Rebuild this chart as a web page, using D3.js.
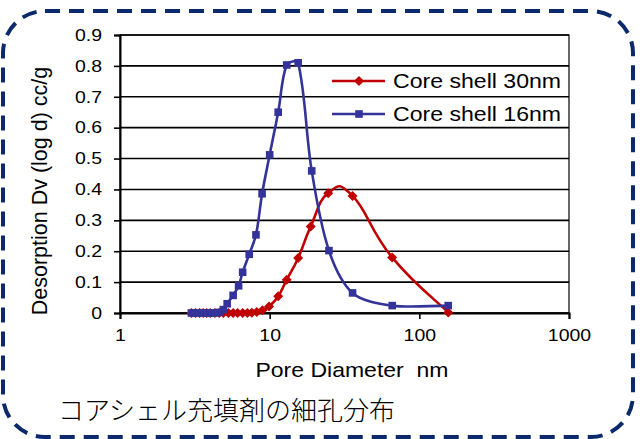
<!DOCTYPE html>
<html><head><meta charset="utf-8">
<script src="https://cdn.jsdelivr.net/npm/d3@7"></script>
<style>body{margin:0;background:#fff}svg{display:block}</style>
</head><body>
<svg id="c" width="640" height="439"></svg>
<script>
const seriesNames = ["Core shell 30nm", "Core shell 16nm"];
const redX = [3.0,3.2,3.4,3.6,3.8,4.0,4.3,4.6,4.9,5.3,5.7,6.1,6.6,7.1,7.6,8.2,8.95,9.9,11.4,13.0,15.5,18.8,24.6,35.8,65.8,156];
const redY = [0,0,0,0,0,0,0,0,0,0,0,0,0,0,0.001,0.003,0.009,0.021,0.054,0.108,0.178,0.28,0.388,0.379,0.18,0.002];
const blueX = [3.0,3.25,3.5,3.75,4.0,4.3,4.6,4.9,5.2,5.7,6.2,6.6,7.3,8.1,8.9,10.0,11.4,13.0,15.5,19.1,24.9,35.8,65.9,156];
const blueY = [0,0,0,0,0,0,0.002,0.011,0.03,0.057,0.088,0.132,0.19,0.253,0.386,0.512,0.65,0.803,0.81,0.46,0.202,0.065,0.024,0.024];
const yTicks = [0,0.1,0.2,0.3,0.4,0.5,0.6,0.7,0.8,0.9];
const xTicks = [1,10,100,1000];
const xTitle = "Pore Diameter  nm";
const yTitle = "Desorption Dv (log d) cc/g";
const caption = "コアシェル充填剤の細孔分布";

const svg = d3.select("#c");
const L=120, R=569, T=35, B=313;
const x = d3.scaleLog().domain([1,1000]).range([L,R]);
const y = d3.scaleLinear().domain([0,0.9]).range([B,T]);
const font = "Liberation Sans, Arial, sans-serif";
const SX = 1.18;
function stretch(sel, s){ sel.each(function(){ const t=d3.select(this); const ax=+t.attr("x")||0; const a=t.attr("text-anchor");
  t.attr("transform",`translate(${ax},0) scale(${s},1) translate(${-ax},0)`); }); }

// dashed rounded border
svg.append("rect").attr("x",3).attr("y",11).attr("width",630).attr("height",426)
  .attr("rx",42).attr("ry",42).attr("fill","none").attr("stroke","#0c2a6b")
  .attr("stroke-width",4).attr("stroke-dasharray","15,9");

// gridlines
svg.append("g").selectAll("line").data(yTicks).join("line")
  .attr("x1",L).attr("x2",R).attr("y1",d=>y(d)).attr("y2",d=>y(d))
  .attr("stroke","#000").attr("stroke-width",1.6);

// plot frame
svg.append("rect").attr("x",L).attr("y",T).attr("width",R-L).attr("height",B-T)
  .attr("fill","none").attr("stroke","#000").attr("stroke-width",1.2);

// y axis
const ya = svg.append("g").attr("transform",`translate(${L},0)`)
  .call(d3.axisLeft(y).tickValues(yTicks).tickFormat(d=>d===0?"0":d3.format(".1f")(d)).tickSize(6).tickPadding(12));
ya.select(".domain").attr("stroke","#000").attr("stroke-width",2);
ya.selectAll(".tick line").attr("stroke","#000").attr("stroke-width",1.6);
ya.selectAll("text").attr("font-family",font).attr("font-size",16.5).attr("fill","#000").call(stretch,SX);

// x axis
const xa = svg.append("g").attr("transform",`translate(0,${B})`)
  .call(d3.axisBottom(x).tickValues(xTicks).tickFormat(d3.format("d")).tickSize(6).tickPadding(10));
xa.select(".domain").attr("stroke","#000").attr("stroke-width",2);
xa.selectAll(".tick line").attr("stroke","#000").attr("stroke-width",1.6);
xa.selectAll("text").attr("font-family",font).attr("font-size",16.5).attr("fill","#000").call(stretch,SX);

// titles
svg.append("text").attr("x",352).attr("y",377).attr("text-anchor","middle").style("white-space","pre")
  .attr("font-family",font).attr("font-size",20).text(xTitle).call(stretch,1.15);
svg.append("text").attr("transform","translate(47,191) rotate(-90)").attr("text-anchor","middle")
  .attr("font-family",font).attr("font-size",21.5).text(yTitle);
svg.append("text").attr("x",58).attr("y",420)
  .attr("font-family","Noto Sans CJK JP, sans-serif").attr("font-size",26).attr("font-weight",300).text(caption);

// smoothed line (Catmull-Rom style Bezier, optionally segment-length weighted)
function smooth(pts, k, weighted){
  const p = d3.path(); p.moveTo(pts[0][0],pts[0][1]);
  const dist=(a,b)=>Math.hypot(b[0]-a[0],b[1]-a[1]);
  for(let i=0;i<pts.length-1;i++){
    const P0=pts[i-1]||pts[i], P1=pts[i], P2=pts[i+1], P3=pts[i+2]||pts[i+1];
    const d01=dist(P0,P1), d12=dist(P1,P2), d23=dist(P2,P3);
    let w1=1,w2=1;
    if(weighted){ w1 = d01+d12>0 ? 2*d12/(d01+d12) : 1; w2 = d12+d23>0 ? 2*d12/(d12+d23) : 1; }
    p.bezierCurveTo(P1[0]+(P2[0]-P0[0])*k*w1, P1[1]+(P2[1]-P0[1])*k*w1,
                    P2[0]-(P3[0]-P1[0])*k*w2, P2[1]-(P3[1]-P1[1])*k*w2, P2[0], P2[1]);
  }
  return p.toString();
}
const red = redX.map((v,i)=>[x(v),y(redY[i])]);
const blue = blueX.map((v,i)=>[x(v),y(blueY[i])]);
const RED="#c00000", BLUE="#333399";

function diamond(g,cx,cy,s,c){g.append("path").attr("d",`M${cx},${cy-s}L${cx+s},${cy}L${cx},${cy+s}L${cx-s},${cy}Z`).attr("fill",c);}
function square(g,cx,cy,s,c){g.append("rect").attr("x",cx-s).attr("y",cy-s).attr("width",2*s).attr("height",2*s).attr("fill",c);}

svg.append("path").attr("d",smooth(red,0.235,false)).attr("fill","none").attr("stroke",RED).attr("stroke-width",2.6);
const gr = svg.append("g");
red.forEach(d=>diamond(gr,d[0],d[1],5,RED));
svg.append("path").attr("d",smooth(blue,1/6,true)).attr("fill","none").attr("stroke",BLUE).attr("stroke-width",2.6);
const gb = svg.append("g");
blue.forEach(d=>square(gb,d[0],d[1],3.8,BLUE));

// legend
const lg = svg.append("g");
[[81,RED,diamond,5],[114,BLUE,square,3.8]].forEach((r,i)=>{
  lg.append("line").attr("x1",332).attr("x2",385).attr("y1",r[0]).attr("y2",r[0]).attr("stroke",r[1]).attr("stroke-width",2.6);
  r[2](lg,359,r[0],r[3],r[1]);
  lg.append("text").attr("x",393).attr("y",r[0]+7.5).attr("font-family",font).attr("font-size",21).text(seriesNames[i]).call(stretch,1.1);
});
</script>
</body></html>
